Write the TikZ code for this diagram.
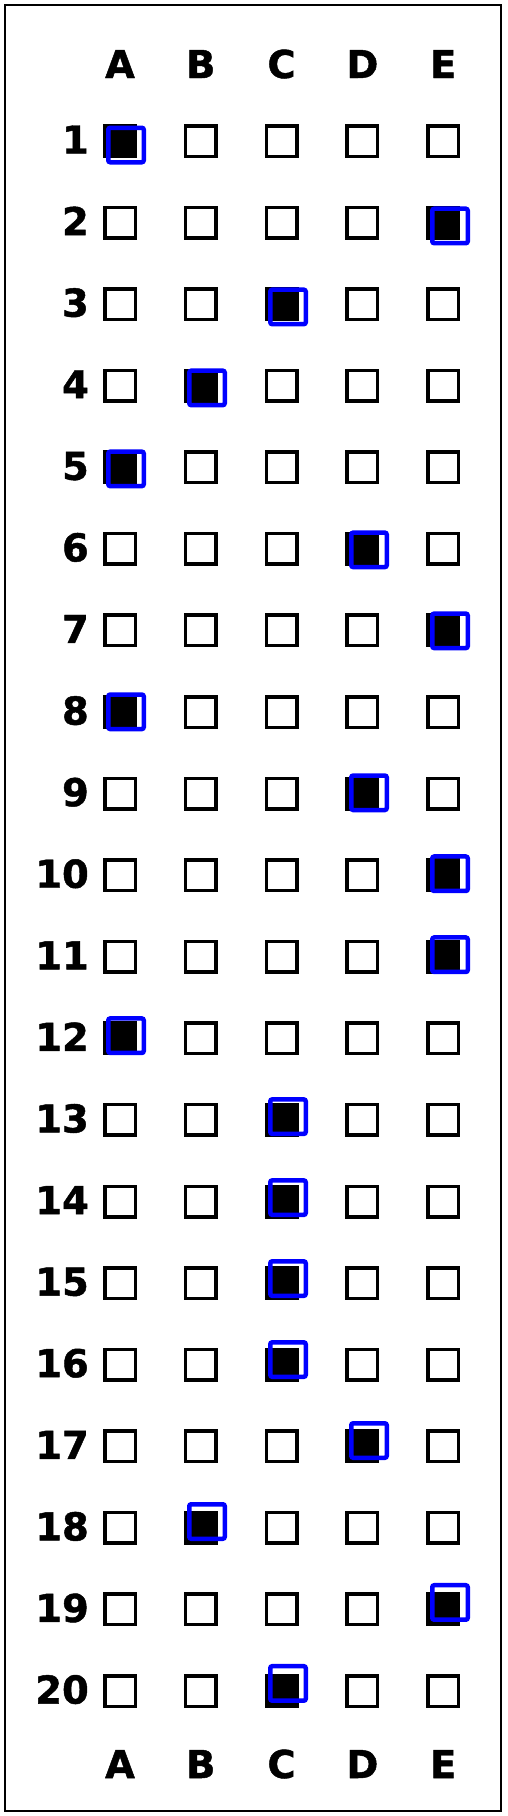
\documentclass[tikz,border=0pt]{standalone}
\usepackage{fontspec}
\setmainfont{DejaVu Sans}[BoldFeatures={FakeBold=1.2}]
\begin{document}
\begin{tikzpicture}[x=1pt,y=-1pt,
  box/.style={draw=black,line width=3.5pt,minimum size=30.5pt,inner sep=0pt},
  answerbox/.style={draw=blue,line width=4.5pt,minimum width=35.5pt,minimum height=34.5pt,inner sep=0pt,rounded corners=2pt},
  lbl/.style={inner sep=0pt,font=\fontsize{38.4}{40}\selectfont\bfseries},
  frame/.style={draw=black,line width=1.4pt}]
\useasboundingbox (0,0) rectangle (507,1816);
\draw[frame] (5,5) rectangle (501,1811);
% column letters
\foreach \c [count=\i from 0] in {A,B,C,D,E}{
  \pgfmathsetmacro\x{120+80.8*\i}
  \node[lbl,anchor=base] (h-\c) at (\x,78) {\c};
  \node[lbl,anchor=base] (f-\c) at (\x,1778) {\c};
}
% rows
\foreach \r in {1,...,20}{
  \pgfmathsetmacro\y{141+81.58*(\r-1)}
  \node[lbl,anchor=base east] (n-\r) at (89,\y+12.5) {\r};
  \foreach \i in {0,...,4}{
    \pgfmathsetmacro\x{120+80.8*\i}
    \node[box] (b-\r-\i) at (\x,\y) {};
  }
}
% marked answers
\foreach \r/\a in {1/0,2/4,3/2,4/1,5/0,6/3,7/4,8/0,9/3,10/4,11/4,12/0,13/2,14/2,15/2,16/2,17/3,18/1,19/4,20/2}{
  \fill[black] (b-\r-\a.south west) rectangle (b-\r-\a.north east);
  \pgfmathsetmacro\bx{126+81*\a}
  \pgfmathsetmacro\by{145+80.97*(\r-1)}
  \node[answerbox] (m-\r) at (\bx,\by) {};
}
\end{tikzpicture}
\end{document}
